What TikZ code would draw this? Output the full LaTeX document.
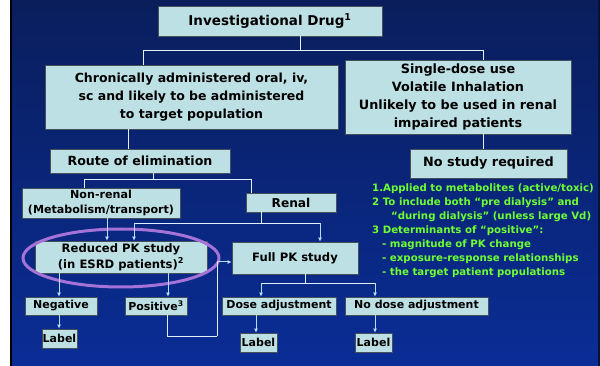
\documentclass[tikz,border=0pt]{standalone}
\usepackage{fontspec}
\setmainfont{DejaVu Sans}
\usetikzlibrary{arrows.meta,calc}
\definecolor{boxfill}{RGB}{189,224,228}
\definecolor{boxline}{RGB}{70,80,90}
\definecolor{bgtop}{RGB}{10,30,92}
\definecolor{bgbot}{RGB}{10,45,150}
\definecolor{note}{RGB}{110,255,50}
\definecolor{ring}{RGB}{165,115,215}
\definecolor{wire}{RGB}{225,240,255}
\definecolor{awire}{RGB}{185,220,250}
\tikzset{
  box/.style={draw=boxline, fill=boxfill, line width=0.8pt, inner sep=0pt, align=center,
    font=\fontsize{11}{18}\selectfont\bfseries, text=black},
  fs/.style={font=\fontsize{#1}{18}\selectfont\bfseries},
  wl/.style={draw=wire, line width=1pt},
  al/.style={draw=awire, line width=1pt, -{Latex[length=4pt,width=4pt]}},
}
\begin{document}
\begin{tikzpicture}[x=1pt,y=-1pt]
\useasboundingbox (0,0) rectangle (600,366);
\fill[white] (0,0) rectangle (10,366);
\fill[black] (10,0) rectangle (12,366);
\shade[top color=bgtop, bottom color=bgbot] (12,0) rectangle (598,366);
\fill[bgtop!60!black] (598,0) rectangle (600,366);

% boxes
\node[box, minimum width=224, minimum height=30, fs=13.5] (inv) at (270,21) {Investigational Drug\textsuperscript{1}};
\node[box, minimum width=293, minimum height=64, fs=12.5] (chron) at (191.5,97) {Chronically administered oral, iv,\\ sc and likely to be administered\\ to target population};
\node[box, minimum width=226, minimum height=74, font=\fontsize{12.8}{17.7}\selectfont\bfseries] (single) at (458,97) {Single-dose use\\ Volatile Inhalation\\ Unlikely to be used in renal\\ impaired patients};
\node[box, minimum width=180, minimum height=24, fs=12.6] (route) at (140,161) {Route of elimination};
\node[box, minimum width=157, minimum height=29, fs=12.8] (nostudy) at (488.5,163.5) {No study required};
\node[box, minimum width=158, minimum height=30, font=\fontsize{11.1}{15}\selectfont\bfseries] (nonrenal) at (101,203) {Non-renal\\ (Metabolism/transport)};
\node[box, minimum width=90, minimum height=19, fs=12.2] (renal) at (291,202.5) {Renal};
\node[box, minimum width=172, minimum height=32, font=\fontsize{11.6}{16}\selectfont\bfseries] (reduced) at (121,257) {Reduced PK study\\ (in ESRD patients)\textsuperscript{2}};
\node[box, minimum width=126, minimum height=32, fs=11.6] (full) at (295,258) {Full PK study};
\node[box, minimum width=72, minimum height=18] (neg) at (61,306) {Negative};
\node[box, minimum width=62, minimum height=18] (pos) at (156,306) {Positive\textsuperscript{3}};
\node[box, minimum width=114, minimum height=18] (doseadj) at (279,306) {Dose adjustment};
\node[box, minimum width=143, minimum height=18] (nodose) at (416.5,306) {No dose adjustment};
\node[box, minimum width=35, minimum height=19] (lab1) at (59.5,338.5) {Label};
\node[box, minimum width=37, minimum height=19] (lab2) at (258.5,342.5) {Label};
\node[box, minimum width=37, minimum height=19] (lab3) at (373.5,342.5) {Label};

% ring around reduced study
\draw[ring, line width=3pt] (121,258) ellipse [x radius=98, y radius=29];

% connectors
\coordinate (a1) at ([xshift=30pt]inv.south);
\draw[wl] (a1) -- ++(0,14) coordinate (j1);
\draw[wl] ([xshift=-48.5pt]chron.north) |- (j1) -| ([xshift=25pt]single.north);

\coordinate (a2) at ([xshift=-63.5pt]chron.south);
\draw[wl] (a2) -- (a2 |- route.north);

\coordinate (a3) at ([xshift=13pt]route.south);
\draw[wl] (a3) -- ++(0,6) coordinate (j2);
\draw[wl] ([xshift=-17pt]nonrenal.north) |- (j2) -| ([xshift=-40pt]renal.north);

\coordinate (a4) at ([xshift=25pt]single.south);
\draw[wl] (a4) -- (a4 |- nostudy.north);

\coordinate (a5) at ([xshift=6pt]nonrenal.south);
\draw[al] (a5) -- (a5 |- reduced.north);

\coordinate (a6) at ([xshift=-30pt]renal.south);
\draw[wl] (a6) -- ++(0,11) coordinate (j3);
\coordinate (b1) at ([xshift=13pt]reduced.north);
\coordinate (b2) at ([xshift=25pt]full.north);
\draw[wl] (j3 -| b1) -- (j3 -| b2);
\draw[al] (j3 -| b1) -- (b1);
\draw[al] (j3 -| b2) -- (b2);

\coordinate (a7) at ([xshift=-62pt]reduced.south);
\draw[al] (a7) -- (a7 |- neg.north);
\coordinate (a8) at ([xshift=47pt]reduced.south);
\draw[al] (a8) -- (a8 |- pos.north);

\coordinate (a9) at ([xshift=11pt]pos.south);
\coordinate (b3) at ([yshift=-4pt]full.west);
\draw[wl] (a9) |- (217,336) coordinate (j4);
\draw[wl] (j4) -- (j4 |- b3);
\draw[al] (j4 |- b3) -- (b3);

\coordinate (a10) at ([xshift=10pt]full.south);
\draw[wl] (a10) -- ++(0,9) coordinate (j5);
\coordinate (b4) at ([xshift=-18pt]doseadj.north);
\coordinate (b5) at ([xshift=-41.5pt]nodose.north);
\draw[wl] (j5 -| b4) -- (j5 -| b5);
\draw[al] (j5 -| b4) -- (b4);
\draw[al] (j5 -| b5) -- (b5);

\coordinate (a11) at ([xshift=-2pt]neg.south);
\draw[al] (a11) -- (a11 |- lab1.north);
\coordinate (a12) at ([xshift=-23pt]doseadj.south);
\draw[al] (a12) -- (a12 |- lab2.north);
\coordinate (a13) at ([xshift=-41.5pt]nodose.south);
\draw[al] (a13) -- (a13 |- lab3.north);

% notes
\node[anchor=north west, inner sep=0pt, align=left, text=note,
  font=\fontsize{10.2}{14}\selectfont\bfseries] (notes) at (372,184)
{1.Applied to metabolites (active/toxic)\\
2 To include both “pre dialysis” and\\
\hspace*{19pt}“during dialysis” (unless large Vd)\\
3 Determinants of “positive”:\\
\hspace*{10pt}- magnitude of PK change\\
\hspace*{10pt}- exposure-response relationships\\
\hspace*{10pt}- the target patient populations};
\end{tikzpicture}
\end{document}
